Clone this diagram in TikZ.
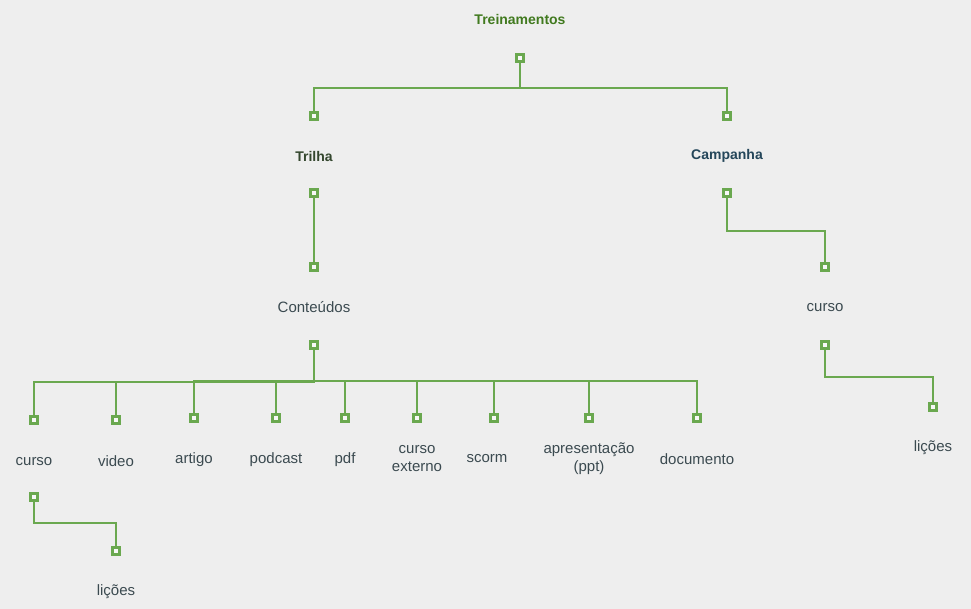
\documentclass[tikz,border=0pt]{standalone}
\usepackage{fontspec}
\setmainfont{Liberation Sans}
\usetikzlibrary{calc}
\definecolor{bg}{HTML}{EEEEEE}
\definecolor{ln}{HTML}{6AA84F}
\definecolor{rootc}{HTML}{417A1F}
\definecolor{trilhac}{HTML}{34472E}
\definecolor{campc}{HTML}{24465A}
\definecolor{txt}{HTML}{3B4A50}
\begin{document}
\begin{tikzpicture}[x=1pt,y=-1pt,
  port/.style={draw=ln, line width=2.4pt, fill=white!60!bg, minimum size=6.8pt, inner sep=0pt, rectangle},
  conn/.style={draw=ln, line width=2.4pt},
  lbl/.style={text=txt, font=\fontsize{15}{17.5}\selectfont, align=center, inner sep=0pt, yshift=-1.5pt},
  blbl/.style={font=\bfseries\fontsize{14}{17}\selectfont, inner sep=0pt, yshift=-1pt}]
\fill[bg] (0,0) rectangle (971,609);
\useasboundingbox (0,0) rectangle (971,609);
% labels
\node[blbl, text=rootc] (tTrein) at (520,19) {Treinamentos};
\node[blbl, text=trilhac] (tTrilha) at (314,155) {Trilha};
\node[blbl, text=campc] (tCamp) at (727,155) {Campanha};
\node[lbl] (tCont) at (314,306) {Conteúdos};
\node[lbl] (tCursoR) at (825,306) {curso};
\node[lbl] (tLicR) at (933,446) {lições};
\node[lbl] (tCurso) at (34,460) {curso};
\node[lbl] (tVideo) at (116,460) {video};
\node[lbl] (tArtigo) at (194,458) {artigo};
\node[lbl] (tPod) at (276,458) {podcast};
\node[lbl] (tPdf) at (345,458) {pdf};
\node[lbl] (tExt) at (417,457) {curso\\externo};
\node[lbl] (tScorm) at (487,457) {scorm};
\node[lbl] (tAp) at (589,457) {apresentação\\(ppt)};
\node[lbl] (tDoc) at (697,458) {documento};
\node[lbl] (tLic) at (116,590) {lições};
% ports
\node[port] (pTreinOut) at (520,58) {};
\node[port] (pTrilhaIn) at (314,116) {};
\node[port] (pCampIn) at (727,116) {};
\node[port] (pTrilhaOut) at (314,193) {};
\node[port] (pCampOut) at (727,193) {};
\node[port] (pContIn) at (314,267) {};
\node[port] (pCursoRIn) at (825,267) {};
\node[port] (pContOut) at (314,345) {};
\node[port] (pCursoROut) at (825,345) {};
\node[port] (pLicRIn) at (933,407) {};
\node[port] (pCursoIn) at (34,420) {};
\node[port] (pVideoIn) at (116,420) {};
\node[port] (pArtigoIn) at (194,418) {};
\node[port] (pPodIn) at (276,418) {};
\node[port] (pPdfIn) at (345,418) {};
\node[port] (pExtIn) at (417,418) {};
\node[port] (pScormIn) at (494,418) {};
\node[port] (pApIn) at (589,418) {};
\node[port] (pDocIn) at (697,418) {};
\node[port] (pCursoOut) at (34,497) {};
\node[port] (pLicIn) at (116,551) {};
% connectors
\draw[conn] (pTreinOut) -- ($(pTreinOut)+(0,30)$) -| (pTrilhaIn);
\draw[conn] (pTreinOut) -- ($(pTreinOut)+(0,30)$) -| (pCampIn);
\draw[conn] (pTrilhaOut) -- (pContIn);
\draw[conn] (pCampOut) -- ($(pCampOut)+(0,38)$) -| (pCursoRIn);
\draw[conn] (pCursoROut) -- ($(pCursoROut)+(0,32)$) -| (pLicRIn);
\foreach \c in {pCursoIn,pVideoIn}{
  \draw[conn] (pContOut) -- ($(pContOut)+(0,37)$) -| (\c);
}
\foreach \c in {pArtigoIn,pPodIn,pPdfIn,pExtIn,pScormIn,pApIn,pDocIn}{
  \draw[conn] (pContOut) -- ($(pContOut)+(0,36)$) -| (\c);
}
\draw[conn] (pCursoOut) -- ($(pCursoOut)+(0,26)$) -| (pLicIn);
% redraw ports on top
\foreach \p in {pTreinOut,pTrilhaIn,pCampIn,pTrilhaOut,pCampOut,pContIn,pCursoRIn,pContOut,pCursoROut,pLicRIn,pCursoIn,pVideoIn,pArtigoIn,pPodIn,pPdfIn,pExtIn,pScormIn,pApIn,pDocIn,pCursoOut,pLicIn}{
  \draw[draw=ln, line width=2.4pt, fill=white!60!bg] ($(\p.center)+(-3.4,-3.4)$) rectangle ($(\p.center)+(3.4,3.4)$);
}
\end{tikzpicture}
\end{document}
